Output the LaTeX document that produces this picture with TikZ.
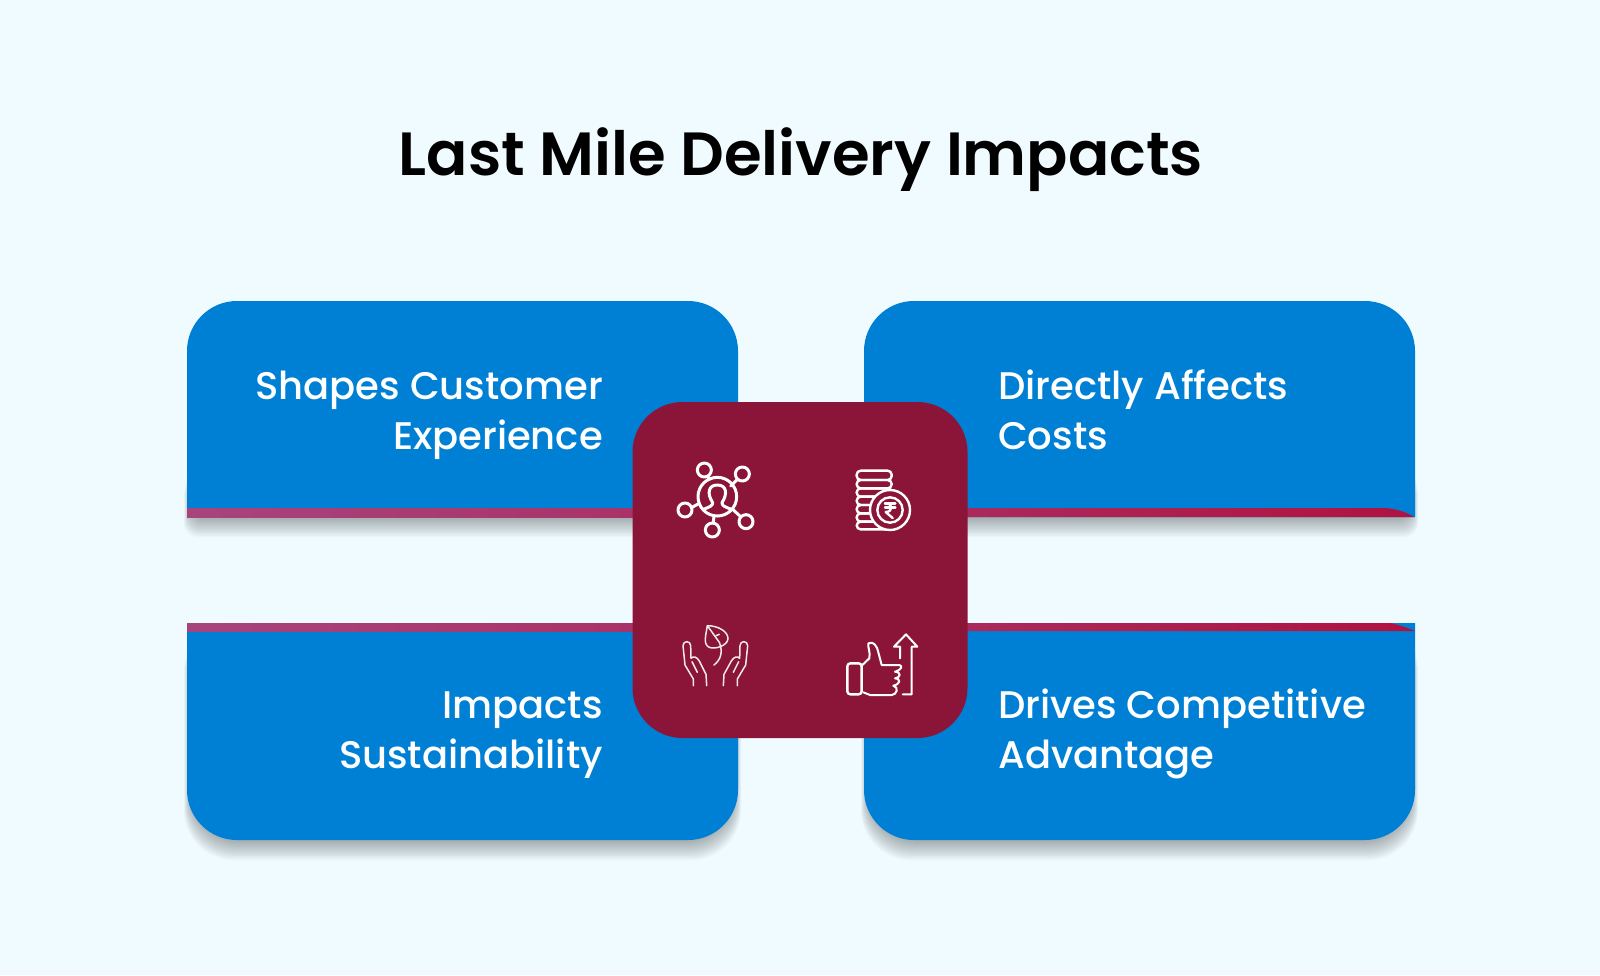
\documentclass[tikz,border=0pt]{standalone}
\usepackage{fontspec}
\setmainfont{Poppins}
\newfontfamily\titlefont{Poppins SemiBold}
\newfontfamily\cardfont{Poppins Medium}
\definecolor{skyBack}{HTML}{F0FBFF}
\definecolor{cardBlue}{HTML}{0080D4}
\definecolor{wineRed}{HTML}{8A1538}
\definecolor{barLeft}{HTML}{A8447C}
\definecolor{barMid}{HTML}{A92F63}
\definecolor{barRight}{HTML}{B0123F}
\tikzset{x=1pt, y=-1pt}
\tikzset{title-text/.style={font=\titlefont\fontsize{61}{66}\selectfont, text=black, inner sep=0}}
\tikzset{card-text/.style={font=\cardfont\fontsize{38.5}{50}\selectfont, text=white, inner sep=0}}
\tikzset{center-box/.style={fill=wineRed, minimum width=335pt, minimum height=336pt, rounded corners=50pt, inner sep=0}}
\tikzset{icon-line/.style={draw=white, line width=2.4pt, line join=round, line cap=round}}
\tikzset{icon-bold/.style={icon-line, line width=3pt}}
\tikzset{icon-thin/.style={draw=white!90!wineRed, line width=1.5pt, line join=round, line cap=round}}
% #1 x left, #2 x right, #3 y top, #4 y bottom, #5 corner
\newcommand{\cardshadow}[5] {
    \foreach \i in {1,...,14} {
        \fill[black, opacity=0.024]
            (#1+4-\i*0.5, #3+\i*3) [rounded corners=#5] -- (#1+4-\i*0.5, #4+\i*1.45) -- (#2-4+\i*0.5, #4+\i*1.45) [sharp corners] -- (#2-4+\i*0.5, #3+\i*3) -- cycle;
    }
}
\begin{document}
\begin{tikzpicture}
    \useasboundingbox (0,0) rectangle (1600,975);
    \fill[skyBack] (0,0) rectangle (1600,975);

    \node[title-text, anchor=base] (title) at (801,175) {Last Mile Delivery Impacts};

    \cardshadow{187}{738}{450}{517}{14pt}
    \cardshadow{864}{1415}{450}{517}{14pt}
    \cardshadow{187}{738}{624}{840}{50pt}
    \cardshadow{864}{1415}{624}{840}{50pt}

    % top cards
    \fill[cardBlue] (187,517) [rounded corners=50pt] -- (187,301) -- (738,301) [sharp corners] -- (738,517) -- cycle;
    \fill[cardBlue] (864,517) [rounded corners=50pt] -- (864,301) -- (1415,301) [sharp corners] -- (1415,517) -- cycle;
    \shade[left color=barLeft, right color=barMid] (187,508) rectangle (738,517);
    \shade[left color=barMid, right color=barRight] (864,508) -- (1385,508) .. controls (1398,509) and (1408,513) .. (1414,517) -- (864,517) -- cycle;

    % bottom cards
    \fill[cardBlue] (187,623) [rounded corners=50pt] -- (187,840) -- (738,840) [sharp corners] -- (738,623) -- cycle;
    \fill[cardBlue] (864,623) [rounded corners=50pt] -- (864,840) -- (1415,840) [sharp corners] -- (1415,623) -- cycle;
    \shade[left color=barLeft, right color=barMid] (187,623) rectangle (738,631);
    \shade[left color=barMid, right color=barRight] (864,623) -- (1390,623) .. controls (1400,625) and (1408,628) .. (1415,631) -- (864,631) -- cycle;

    \node[card-text, anchor=base east] (experience) at (603,449) {Experience};
    \node[card-text, anchor=base east] (shapes) at (603,399) {Shapes Customer};
    \node[card-text, anchor=base west] (costs) at (998,449) {Costs};
    \node[card-text, anchor=base west] (directly) at (998,399) {Directly Affects};
    \node[card-text, anchor=base east] (sustain) at (603,768) {Sustainability};
    \node[card-text, anchor=base east] (impacts) at (603,718) {Impacts};
    \node[card-text, anchor=base west] (advantage) at (998,768) {Advantage};
    \node[card-text, anchor=base west] (drives) at (998,718) {Drives Competitive};

    \node[center-box] (middle) at (800,570) {};

    % network icon
    \begin{scope}[shift={(660,450)}, scale=1/3]
        \draw[icon-bold] (172,140) circle (58);
        \foreach \cx/\cy in {133/60, 247/72, 75/180, 258/215, 157/240} {
            \draw[icon-bold] (\cx,\cy) circle (21);
        }
        \draw[icon-bold] (142,80) -- (150,88);
        \draw[icon-bold] (232,88) -- (212,108);
        \draw[icon-bold] (96,172) -- (118,160);
        \draw[icon-bold] (242,200) -- (218,178);
        \draw[icon-bold] (160,219) -- (162,197);
        \draw[icon-bold] (130,178) .. controls (150,170) and (158,168) .. (158,158) .. controls (140,130) and (145,105) .. (172,105) .. controls (199,105) and (204,130) .. (186,158) .. controls (186,168) and (194,170) .. (214,178);
    \end{scope}

    % coins icon
    \begin{scope}[shift={(830,450)}, scale=1/3]
        \foreach \ya/\yb in {62/90, 90/115, 115/140, 140/165, 165/190, 190/215, 215/238} {
            \draw[icon-line, rounded corners=4pt] (80,\ya) rectangle (185,\yb);
        }
        \draw[icon-line, fill=wineRed] (180,180) circle (60);
        \draw[icon-line] (180,180) circle (38);
        \draw[icon-line] (165,160) -- (196,160);
        \draw[icon-line] (165,173) -- (196,173);
        \draw[icon-line] (165,160) .. controls (190,158) and (190,186) .. (167,186) -- (188,204);
    \end{scope}

    % hands icon
    \begin{scope}[shift={(660,615)}, scale=1/3]
        \draw[icon-thin] (142,32) .. controls (175,32) and (205,50) .. (204,72) .. controls (202,92) and (165,104) .. (148,97) .. controls (128,88) and (138,60) .. (142,32) -- cycle;
        \draw[icon-thin] (142,32) -- (178,82) .. controls (188,108) and (185,132) .. (162,150);
        \draw[icon-thin] (168,62) -- (178,58);
        \draw[icon-thin] (100,212) -- (100,192) -- (75,150) -- (69,92) .. controls (69,76) and (92,76) .. (92,92) -- (93,130) .. controls (100,122) and (110,125) .. (118,138) -- (138,178) -- (140,212);
        \draw[icon-thin] (96,140) -- (112,172);
        \draw[icon-thin] (232,212) -- (232,192) -- (257,150) -- (263,92) .. controls (263,76) and (240,76) .. (240,92) -- (239,130) .. controls (232,122) and (222,125) .. (214,138) -- (192,178) -- (190,212);
        \draw[icon-thin] (236,140) -- (220,172);
    \end{scope}

    % thumb icon
    \begin{scope}[shift={(830,615)}, scale=1/3]
        \draw[icon-line, rounded corners=3pt] (52,145) rectangle (95,238);
        \draw[icon-line, line width=2pt] (97,150) -- (118,130) .. controls (122,110) and (112,95) .. (115,85) .. controls (130,78) and (140,90) .. (145,112) -- (155,150) -- (208,150) .. controls (218,152) and (216,164) .. (195,170) .. controls (215,172) and (212,188) .. (195,190) .. controls (215,192) and (210,208) .. (190,212) .. controls (208,216) and (200,240) .. (185,240) -- (120,240) -- (100,232);
        \draw[icon-line, line width=2pt] (210,130) -- (210,95) -- (192,95) -- (228,58) -- (262,95) -- (245,95) -- (245,238) -- (218,238);
    \end{scope}
\end{tikzpicture}
\end{document}
